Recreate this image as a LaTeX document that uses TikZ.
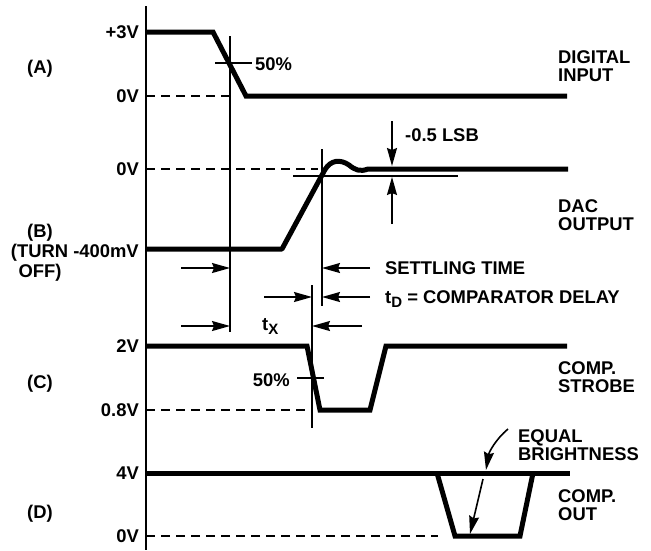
\documentclass[tikz,border=0pt]{standalone}
\usepackage{fontspec}
\setmainfont{Liberation Sans}
\usetikzlibrary{arrows.meta}
\begin{document}
\begin{tikzpicture}[x=1pt,y=-1pt,
  sig/.style={line width=5pt},
  guide/.style={line width=1.6pt},
  dsh/.style={line width=1.5pt, dash pattern=on 9pt off 6pt},
  arr/.style={line width=1.6pt, -{Stealth[length=18pt,width=10pt,inset=2pt]}},
  lbl/.style={font=\fontsize{18.4}{19}\selectfont\bfseries, inner sep=0pt},
  lft/.style={lbl, anchor=base east},
  rgt/.style={lbl, anchor=base west},
  ctr/.style={lbl, anchor=base}
]
\useasboundingbox (0,0) rectangle (651,550);
% axis
\coordinate (ax0) at (146,6);
\coordinate (ax1) at (146,550);
\draw[guide] (ax0) -- (ax1);

% ---------- (A) digital input
\coordinate (a0) at (146,32);
\coordinate (a1) at (213,32);
\coordinate (a2) at (246,96);
\coordinate (a3) at (567,96);
\draw[sig] (a0) -- (a1) -- (a2) -- (a3);
\coordinate (az) at (230,96);
\draw[dsh] (146,96) -- (az);
\coordinate (va0) at (230,36);
\coordinate (va1) at (230,332);
\draw[guide] (va0) -- (va1);
\coordinate (ta0) at (215,63);
\coordinate (ta1) at (252,63);
\draw[guide] (ta0) -- (ta1);

\node[lft] (l3v) at (139,38.5) {+3V};
\node[ctr] (lA) at (40,73.5) {(A)};
\node[lft] (l0a) at (139,102.5) {0V};
\node[rgt] (p50a) at (255,70.5) {50\%};
\node[rgt] (dig1) at (558,63) {DIGITAL};
\node[rgt] (dig2) at (558,81) {INPUT};

% ---------- (B) DAC output
\coordinate (b0) at (146,249);
\coordinate (b1) at (282,249);
\coordinate (b2) at (325,169.5);
\coordinate (b3) at (368,169);
\coordinate (b4) at (568,169);
\draw[sig, line join=round] (b0) -- (b1) -- (b2) .. controls (331,160) and (340,159) .. (349,165)
   .. controls (355,170) and (360,172) .. (b3) -- (b4);
\draw[dsh] (146,169) -- (318,169);
\coordinate (vb0) at (322,149);
\coordinate (vb1) at (322,306);
\draw[guide] (vb0) -- (vb1);
\coordinate (hb0) at (293,176);
\coordinate (hb1) at (458,176);
\draw[guide] (hb0) -- (hb1);
% -0.5 LSB arrows
\coordinate (lsbA) at (392,121);
\coordinate (lsbB) at (392,166);
\coordinate (lsbC) at (392,224);
\coordinate (lsbD) at (392,177);
\draw[arr] (lsbA) -- (lsbB);
\draw[arr] (lsbC) -- (lsbD);

\node[lft] (l0b) at (139,175.5) {0V};
\node[rgt] (lsb) at (405,141.5) {-0.5 LSB};
\node[rgt] (dac1) at (558,212) {DAC};
\node[rgt] (dac2) at (558,230) {OUTPUT};
\node[ctr] (lB) at (40,237) {(B)};
\node[lft] (l400) at (139,257) {(TURN -400mV};
\node[ctr] (off) at (40,277) {OFF)};

% ---------- timing arrows
\coordinate (s0) at (181,268);
\coordinate (s1) at (230,268);
\coordinate (s2) at (370,268);
\coordinate (s3) at (322,268);
\draw[arr] (s0) -- (s1);
\draw[arr] (s2) -- (s3);
\coordinate (d0) at (264,297);
\coordinate (d1) at (312,297);
\coordinate (d2) at (370,297);
\coordinate (d3) at (322,297);
\draw[arr] (d0) -- (d1);
\draw[arr] (d2) -- (d3);
\coordinate (x0) at (181,326);
\coordinate (x1) at (230,326);
\coordinate (x2) at (362,326);
\coordinate (x3) at (312,326);
\draw[arr] (x0) -- (x1);
\draw[arr] (x2) -- (x3);

\node[rgt] (settle) at (385,274.5) {SETTLING TIME};
\node[rgt] (tdl) at (385,303) {t\raisebox{-4pt}{\fontsize{15}{15}\selectfont D} = COMPARATOR DELAY};
\node[rgt] (txl) at (262,330) {t\raisebox{-4pt}{\fontsize{15}{15}\selectfont X}};

% ---------- (C) comparator strobe
\coordinate (c0) at (146,346);
\coordinate (c1) at (307,346);
\coordinate (c2) at (320,410);
\coordinate (c3) at (370,410);
\coordinate (c4) at (386,346);
\coordinate (c5) at (567,346);
\draw[sig] (c0) -- (c1) -- (c2) -- (c3) -- (c4) -- (c5);
\draw[dsh] (146,410) -- (312,410);
\coordinate (vc0) at (312,285);
\coordinate (vc1) at (312,428);
\draw[guide] (vc0) -- (vc1);
\coordinate (tc0) at (297,378);
\coordinate (tc1) at (324,378);
\draw[guide] (tc0) -- (tc1);

\node[lft] (l2v) at (139,352.5) {2V};
\node[ctr] (lC) at (40,388.5) {(C)};
\node[lft] (p50c) at (290,386.5) {50\%};
\node[lft] (l08) at (139,416.5) {0.8V};
\node[rgt] (cs1) at (558,374) {COMP.};
\node[rgt] (cs2) at (558,392) {STROBE};

% ---------- (D) comparator out
\coordinate (e0) at (146,473);
\coordinate (e1) at (570,473);
\draw[sig] (e0) -- (e1);
\coordinate (t0) at (437,473);
\coordinate (t1) at (455,536);
\coordinate (t2) at (520,536);
\coordinate (t3) at (533,473);
\draw[sig] (t0) -- (t1) -- (t2) -- (t3);
\draw[dsh] (146,536) -- (438,536);
\coordinate (eb0) at (508,429);
\coordinate (eb1) at (486,470);
\draw[arr] (eb0) .. controls (496,439) and (489,452) .. (eb1);
\coordinate (eb2) at (483,479);
\coordinate (eb3) at (470,534);
\draw[arr] (eb2) -- (eb3);

\node[lft] (l4v) at (139,479.5) {4V};
\node[ctr] (lD) at (40,518.5) {(D)};
\node[lft] (l0d) at (139,542.5) {0V};
\node[rgt] (eq1) at (518,442) {EQUAL};
\node[rgt] (eq2) at (518,460) {BRIGHTNESS};
\node[rgt] (co1) at (558,502) {COMP.};
\node[rgt] (co2) at (558,520) {OUT};
\end{tikzpicture}
\end{document}
